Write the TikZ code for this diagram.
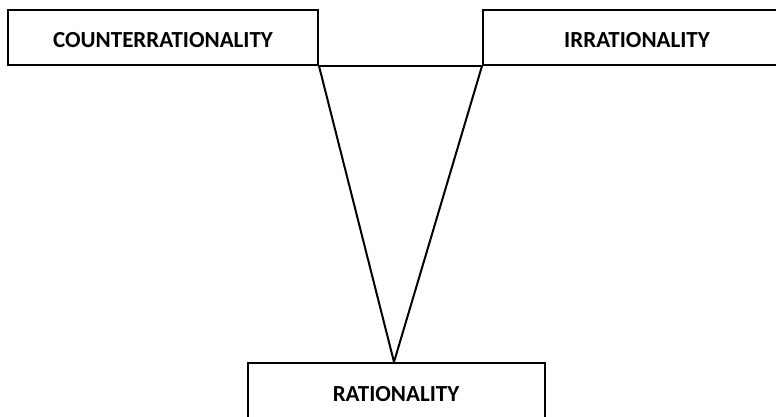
\documentclass[tikz,border=0pt]{standalone}
\usepackage{fontspec}
\setmainfont{Carlito}
\tikzset{
  conceptbox/.style={draw=black, line width=2pt, fill=white, minimum height=55pt, inner sep=0pt, font=\bfseries\fontsize{23}{27}\selectfont},
  link/.style={draw=black, line width=2pt}
}
\begin{document}
\begin{tikzpicture}[x=1pt,y=-1pt]
\useasboundingbox (0,0) rectangle (776,416);
\clip (0,0) rectangle (776,416);
\node[conceptbox, minimum width=310pt] (counter) at (163,37.5) {};
\node[conceptbox, minimum width=308pt] (irr) at (637,37.5) {};
\node[conceptbox, minimum width=297pt, minimum height=62pt] (rat) at (396.5,394) {};
\node[font=\bfseries\fontsize{23}{27}\selectfont, inner sep=0pt] (countert) at (163,40) {COUNTERRATIONALITY};
\node[font=\bfseries\fontsize{23}{27}\selectfont, inner sep=0pt] (irrt) at (637,40) {IRRATIONALITY};
\node[font=\bfseries\fontsize{23}{27}\selectfont, inner sep=0pt] (ratt) at (396,394) {RATIONALITY};
\coordinate (apex) at (rat.north -| 394,0);
\draw[link] (counter.south east) -- (irr.south west);
\draw[link] (counter.south east) -- (apex);
\draw[link] (irr.south west) -- (apex);
\end{tikzpicture}
\end{document}
